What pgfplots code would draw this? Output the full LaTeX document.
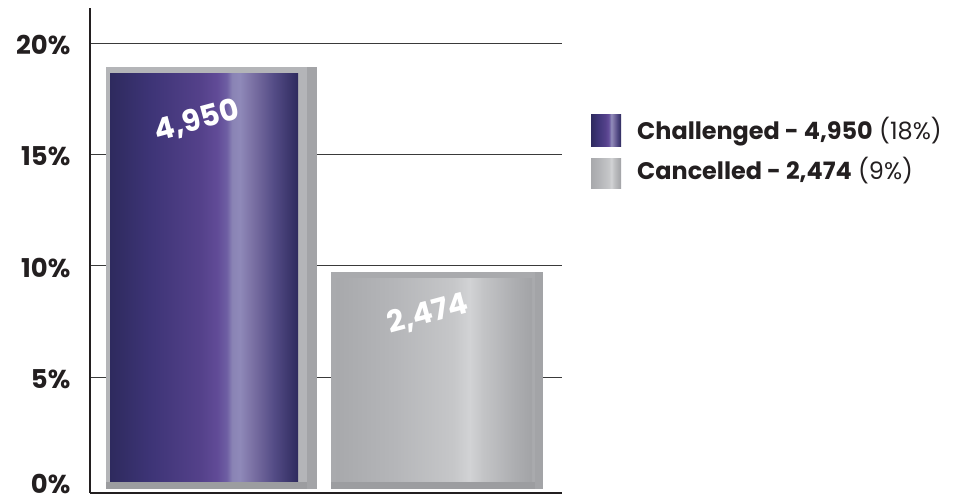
\documentclass[border=0pt]{standalone}
\usepackage{pgfplots}
\pgfplotsset{compat=1.18}
\usepackage{fontspec}
\setmainfont{Poppins}
\definecolor{ink}{HTML}{231F20}
\definecolor{grid}{HTML}{3A3A3A}
\definecolor{pA}{HTML}{2E2A5E}
\definecolor{pB}{HTML}{3D3476}
\definecolor{pC}{HTML}{54418A}
\definecolor{pD}{HTML}{614B97}
\definecolor{pE}{HTML}{6E5EA3}
\definecolor{pF}{HTML}{8A84B5}
\definecolor{pG}{HTML}{8F89B9}
\definecolor{pH}{HTML}{7A70A3}
\definecolor{pI}{HTML}{544C86}
\definecolor{gA}{HTML}{A8A9AC}
\definecolor{gB}{HTML}{B5B6B9}
\definecolor{gC}{HTML}{C6C7C9}
\definecolor{gD}{HTML}{D2D3D5}
\definecolor{gE}{HTML}{C3C4C6}
\definecolor{gF}{HTML}{AEAFB2}
\definecolor{gG}{HTML}{A2A3A6}
\definecolor{frameP}{HTML}{B4B5B8}
\definecolor{frameG}{HTML}{A9AAAD}
\definecolor{strip}{HTML}{A3A4A7}
\definecolor{bottomb}{HTML}{9C9DA0}
\pgfdeclarehorizontalshading{purpleface}{100bp}{color(0bp)=(pA); color(25bp)=(pA); color(35.5bp)=(pB); color(49bp)=(pC); color(53.5bp)=(pD); color(56bp)=(pE); color(57.5bp)=(pF); color(59.5bp)=(pG); color(63bp)=(pH); color(68.5bp)=(pI); color(75bp)=(pA); color(100bp)=(pA)}
\pgfdeclarehorizontalshading{grayface}{100bp}{color(0bp)=(gA); color(25bp)=(gA); color(40bp)=(gB); color(55bp)=(gC); color(59bp)=(gD); color(62.5bp)=(gE); color(70bp)=(gF); color(75bp)=(gG); color(100bp)=(gG)}
\begin{document}
\begin{tikzpicture}
\useasboundingbox (0,0) rectangle (973bp,497bp);
\begin{axis}[
  at={(90bp,4bp)}, anchor=south west,
  scale only axis, width=472bp, height=485bp,
  xmin=-0.539, xmax=1.554, ymin=-0.18, ymax=21.57,
  axis x line=bottom, axis y line=left,
  x axis line style={-, line width=2.5bp, color=ink},
  y axis line style={-, line width=1.5bp, color=ink},
  xtick=\empty,
  ytick={5,10,15,20},
  yticklabels={5\%,10\%,15\%,20\%},
  extra y ticks={0},
  extra y tick labels={0\%},
  extra y tick style={grid=none, yticklabel style={yshift=6bp}},
  major tick length=0pt,
  ymajorgrids,
  major grid style={line width=1bp, color=grid},
  yticklabel style={font=\bfseries\fontsize{26}{26}\selectfont, color=ink, inner sep=0pt, xshift=-19.5bp, yshift=-1.5bp},
  clip=false,
]
% Challenged bar (x=0)
\addplot[ybar, bar width=0.8914, bar shift=-0.0222, fill=frameP, draw=none] coordinates {(0,18.92)};
\addplot[ybar, bar width=0.0443, bar shift=0.4457, fill=strip, draw=none] coordinates {(0,18.92)};
\addplot[ybar, bar width=0.8337, bar shift=-0.0333, shade, shading=purpleface, draw=none] coordinates {(0,18.61)};
\addplot[ybar, bar width=0.8914, bar shift=-0.0222, fill=bottomb, draw=none] coordinates {(0,0.33)};
% Cancelled bar (x=1)
\addplot[ybar, bar width=0.9047, bar shift=-0.0177, fill=frameG, draw=none] coordinates {(1,9.73)};
\addplot[ybar, bar width=0.0355, bar shift=0.4523, fill=strip, draw=none] coordinates {(1,9.73)};
\addplot[ybar, bar width=0.8661, bar shift=-0.0118, shade, shading=grayface, draw=none] coordinates {(1,9.42)};
\addplot[ybar, bar width=0.9047, bar shift=-0.0177, fill=bottomb, draw=none] coordinates {(1,0.33)};
\node[rotate=15, text=white, font=\bfseries\fontsize{30}{30}\selectfont] at (axis cs:-0.064,16.5) {4,950};
\node[rotate=15, text=white, font=\bfseries\fontsize{30}{30}\selectfont] at (axis cs:0.96,7.85) {2,474};
\end{axis}
\shade[shading=purpleface] (591bp,350bp) rectangle (621bp,382bp);
\shade[shading=grayface] (591bp,308bp) rectangle (621bp,338bp);
\node[anchor=base west, inner sep=0pt, text=ink, font=\fontsize{24}{24}\selectfont] at (637bp,357bp) {\textbf{Challenged - 4,950} (18\%)};
\node[anchor=base west, inner sep=0pt, text=ink, font=\fontsize{24}{24}\selectfont] at (637bp,317.5bp) {\textbf{Cancelled - 2,474} (9\%)};
\end{tikzpicture}
\end{document}
